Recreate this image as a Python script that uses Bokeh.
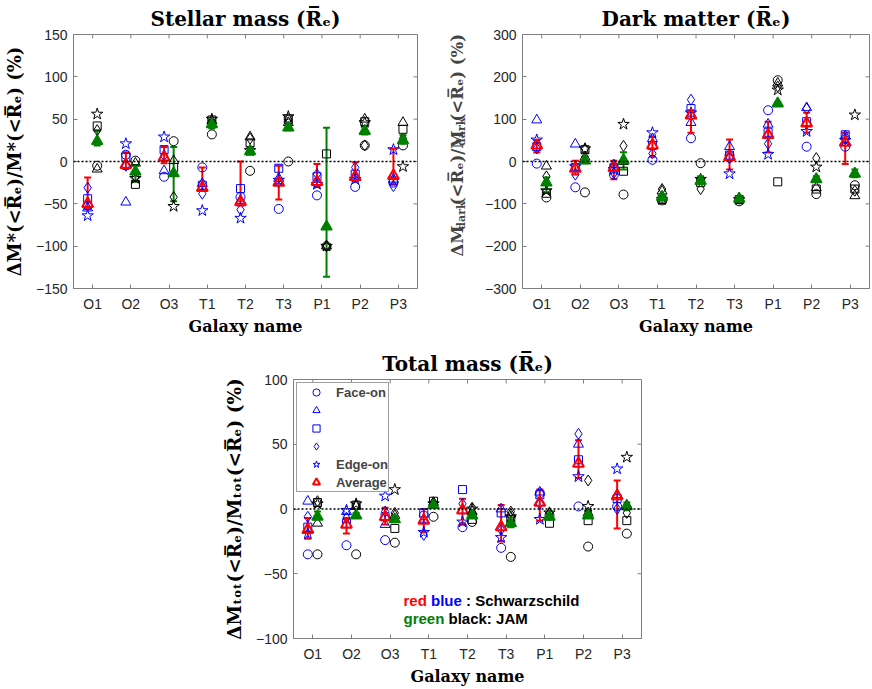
import math
import numpy as np
from bokeh.plotting import figure
from bokeh.models import (ColumnDataSource, Whisker, TeeHead, Span, Label, FixedTicker,
                          Range1d, Legend, LegendItem, Arrow, NormalHead, Spacer)
from bokeh.layouts import column, row
from bokeh.embed import file_html
from bokeh.resources import INLINE

# ---------------- data ----------------
galaxies = ["O1", "O2", "O3", "T1", "T2", "T3", "P1", "P2", "P3"]
projections = ["circle", "triangle", "square", "diamond", "star"]  # face-on -> edge-on

# Stellar mass (%), rows = projections, cols = galaxies
stellar_blue = [
    [-52, 8, -18, -7, -42, -56, -40, -30, -25],
    [-55, -48, -11, -26, -46, -20, -24, -19, -21],
    [-44, 5, 14, -28, -32, -8, -18, -15, -23],
    [-31, -5, 7, -38, -57, -24, -15, -7, -29],
    [-64, 21, 29, -58, -67, -22, -27, -21, 14],
]
stellar_red = [-50, -4, 5, -31, -48, -25, -24, -18, -17]
stellar_red_lo = [-56, -9, -2, -34, -52, -45, -30, -23, -27]
stellar_red_hi = [-19, 11, 17, -7, 0, -5, -3, -1, 15]
stellar_black = [
    [-5, 1, 24, 32, -11, 0, -100, 19, 19],
    [-9, -2, 1, 48, 29, 46, -100, 50, 46],
    [42, -27, -7, 49, 22, 50, 9, 47, 38],
    [37, -18, -42, 46, 27, 50, -100, 19, 27],
    [56, -20, -53, 50, 13, 53, -100, 46, -6],
]
stellar_green = [24, -12, -14, 44, 12, 40, -77, 36, 25]
stellar_green_lo = [19, -24, -47, 39, 8, 37, -136, 32, 21]
stellar_green_hi = [36, -4, 17, 48, 17, 44, 40, 42, 31]

# Dark matter (%)
dark_blue = [
    [-5, -61, -31, 4, 55, 14, 121, 35, 35],
    [98, 41, -8, 54, 92, 35, 88, 127, 60],
    [35, -14, -15, 38, 125, 15, 69, 94, 63],
    [31, -31, -27, 19, 146, 8, 42, 125, 54],
    [51, -12, -19, 68, 115, -29, 17, 71, 50],
]
dark_red = [38, -17, -15, 38, 109, 11, 63, 90, 45]
dark_red_lo = [21, -31, -42, 11, 68, -19, 21, 68, -6]
dark_red_hi = [51, 2, 2, 58, 121, 52, 94, 115, 68]
dark_black = [
    [-85, -73, -78, -92, -4, -94, 192, -77, -56],
    [-11, 10, 0, -70, -46, -88, 185, -62, -81],
    [-75, 28, -23, -90, -50, -90, -48, -65, -65],
    [-35, 30, 37, -65, -65, -88, 177, 8, -69],
    [-69, 30, 88, -90, -42, -90, 169, -13, 110],
]
dark_green = [-50, 2, 3, -84, -46, -88, 137, -42, -29]
dark_green_lo = [-73, -4, -19, -92, -54, -92, 134, -48, -37]
dark_green_hi = [-38, 12, 22, -78, -35, -84, 140, -35, -19]

# Total mass (%)
total_blue = [
    [-35, -28, -24, -5, -14, -30, 12, 2, 2],
    [6, -2, -12, -8, -1, 0, 13, 50, 11],
    [-14, -11, -6, -3, 15, -3, 11, 38, 8],
    [-6, -7, -2, -20, 4, -16, 4, 58, 0],
    [-19, -1, 10, -18, -10, -22, -8, 25, 31],
]
total_red = [-16, -12, -6, -9, -1, -14, 5, 35, 10]
total_red_lo = [-23, -19, -12, -18, -12, -25, -9, 24, -15]
total_red_hi = [-7, -7, 1, 0, 8, 3, 15, 53, 22]
total_black = [
    [-35, -35, -26, -6, -10, -37, -5, -29, -19],
    [-11, 2, -5, 5, -2, -4, -6, -3, 3],
    [5, 3, -15, 6, -8, -8, -11, -9, -9],
    [6, 3, -3, 5, 1, -2, -3, 22, -3],
    [4, 4, 15, 4, 0, -6, -3, 2, 40],
]
total_green = [-6, -5, -8, 3, -5, -11, -6, -5, 2]
total_green_lo = [-8, -7, -10, 1, -7, -14, -8, -6, -1]
total_green_hi = [-2, -3, -6, 5, -3, -9, -4, -2, 5]

# ---------------- style ----------------
GRAY = "#7f7f7f"
TICKC = "#262626"
SERIF = "DejaVu Serif"
SANS = "Liberation Sans"
BLUE, RED, GREEN, BLACK = "#0000ff", "#ff0000", "#008000", "#000000"
OFF_L, OFF_R = -0.13, 0.12
MSIZE = {"circle": 9, "triangle": 10, "square": 8, "diamond": 11, "star": 12}

xs = np.arange(1, len(galaxies) + 1)

# approx advance widths (em) for DejaVu Serif Bold, for chained rotated pieces
CW = {"Δ": 0.84, "M": 1.15, "(": 0.49, ")": 0.49, "<": 0.84, "R": 0.84, "\u0305": 0.0,
      "ₑ": 0.42, "/": 0.37, " ": 0.35, "%": 1.0, "d": 0.76, "a": 0.70, "r": 0.56, "k": 0.76}


def text_w(s, size):
    return sum(CW.get(c, 0.6) for c in s) * size


def make_panel(width, height, mbl, mbr, mbt, mbb, page_l, page_t, ylo, yhi, ystep,
               blue, red, red_lo, red_hi, black, green, green_lo, green_hi,
               title, ylabel, ylabel_size):
    p = figure(width=width, height=height, x_range=Range1d(0.5, 9.5), y_range=Range1d(ylo, yhi),
               output_backend="svg", toolbar_location=None,
               min_border_left=mbl, min_border_right=mbr, min_border_top=mbt, min_border_bottom=mbb)
    p.xgrid.visible = False
    p.ygrid.visible = False
    p.outline_line_color = GRAY
    p.outline_line_width = 1
    p.background_fill_color = "white"
    p.border_fill_color = "white"

    p.title.text = title
    p.title.align = "center"
    p.title.text_font = SERIF
    p.title.text_font_style = "bold"
    p.title.text_font_size = "20px"
    p.title.text_color = "black"
    p.title.standoff = 8

    yt = list(range(ylo, yhi + 1, ystep))
    p.xaxis.ticker = FixedTicker(ticks=[float(v) for v in xs])
    p.xaxis.major_label_overrides = {float(i): g for i, g in zip(xs, galaxies)}
    p.yaxis.ticker = FixedTicker(ticks=yt)
    for ax in (p.xaxis[0], p.yaxis[0]):
        ax.major_tick_in = 4
        ax.major_tick_out = 0
        ax.minor_tick_in = 0
        ax.minor_tick_out = 0
        ax.axis_line_color = GRAY
        ax.major_tick_line_color = GRAY
        ax.major_label_text_font = SANS
        ax.major_label_text_font_size = "14px"
        ax.major_label_text_color = TICKC
        ax.axis_label_text_font = SERIF
        ax.axis_label_text_font_style = "bold"
        ax.axis_label_text_color = "black"
    p.xaxis.major_label_standoff = 7
    p.yaxis.major_label_standoff = 6
    p.xaxis.axis_label = "Galaxy name"
    p.xaxis.axis_label_text_font_size = "16px"
    p.xaxis.axis_label_standoff = 2
    if ylabel:
        p.yaxis.axis_label = ylabel
        p.yaxis.axis_label_text_font_size = ylabel_size
        p.yaxis.axis_label_standoff = 8

    fw = width - mbl - mbr
    fh = height - mbt - mbb

    # inward ticks on the top and right edges of the box
    tlen_y = 4 * (yhi - ylo) / fh
    tlen_x = 4 * 9.0 / fw
    p.segment(x0=xs, y0=[yhi] * len(xs), x1=xs, y1=[yhi - tlen_y] * len(xs),
              line_color=GRAY, line_width=1)
    p.segment(x0=[9.5] * len(yt), y0=yt, x1=[9.5 - tlen_x] * len(yt), y1=yt,
              line_color=GRAY, line_width=1)

    p.add_layout(Span(location=0, dimension="width", line_color="black",
                      line_width=1.5, line_dash="2 2"))

    rends = {}
    for k, m in enumerate(projections):
        rends[m] = p.scatter(xs + OFF_L, blue[k], marker=m, size=MSIZE[m], line_color=BLUE,
                             fill_color=None, line_width=1)
    p.add_layout(Whisker(source=ColumnDataSource(dict(x=xs + OFF_L, lo=red_lo, hi=red_hi)),
                         base="x", lower="lo", upper="hi", line_color=RED, line_width=2,
                         upper_head=TeeHead(size=7, line_color=RED, line_width=2),
                         lower_head=TeeHead(size=7, line_color=RED, line_width=2)))
    rends["avg"] = p.scatter(xs + OFF_L, red, marker="triangle", size=11, line_color=RED,
                             fill_color=None, line_width=2)
    for k, m in enumerate(projections):
        p.scatter(xs + OFF_R, black[k], marker=m, size=MSIZE[m], line_color=BLACK,
                  fill_color=None, line_width=1)
    p.add_layout(Whisker(source=ColumnDataSource(dict(x=xs + OFF_R, lo=green_lo, hi=green_hi)),
                         base="x", lower="lo", upper="hi", line_color=GREEN, line_width=2,
                         upper_head=TeeHead(size=7, line_color=GREEN, line_width=2),
                         lower_head=TeeHead(size=7, line_color=GREEN, line_width=2)))
    p.scatter(xs + OFF_R, green, marker="triangle", size=11, line_color=GREEN,
              fill_color=GREEN, line_width=1.5)

    def dx(px):
        return 0.5 + (px - page_l) / (fw / 9.0)

    def dy(py):
        return yhi - (py - page_t) * (yhi - ylo) / fh

    return p, rends, dx, dy, fw, fh


TOP_H = 338

# ---------------- panel 1: stellar ----------------
p1, r1, dx1, dy1, fw1, fh1 = make_panel(442, TOP_H, 69, 25, 33, 45, 69, 33, -150, 150, 50,
                                        stellar_blue, stellar_red, stellar_red_lo, stellar_red_hi,
                                        stellar_black, stellar_green, stellar_green_lo, stellar_green_hi,
                                        "Stellar mass (R\u0305ₑ)", "ΔM*(<R\u0305ₑ)/M*(<R\u0305ₑ) (%)", "18px")

# ---------------- dark-matter y label (own narrow strip, with subscripts) ----------------
LAB_W = 30
LAB_X0 = 442  # page x where the strip starts
lab2 = figure(width=LAB_W, height=TOP_H, x_range=Range1d(0, LAB_W), y_range=Range1d(0, TOP_H),
              output_backend="svg", toolbar_location=None, title=None,
              x_axis_location=None, y_axis_location=None,
              min_border_left=0, min_border_right=0, min_border_top=0, min_border_bottom=0)
lab2.xgrid.visible = False
lab2.ygrid.visible = False
lab2.outline_line_color = None
lab2.background_fill_color = "white"
lab2.border_fill_color = "white"
# (text, font size px, baseline shift px, gap after px)
pieces = [("ΔM", 16.5, 0, 3), ("dark", 11, 4, 2), ("(<R\u0305ₑ)/M", 16.5, 0, 3), ("dark", 11, 4, 2),
          ("(<R\u0305ₑ) (%)", 16.5, 0, 0)]
total_len = sum(text_w(t, s) + g for t, s, _, g in pieces)
cur = (TOP_H - 161) - total_len / 2
base_x = 457 - LAB_X0
for t, s, sh, g in pieces:
    lab2.add_layout(Label(x=base_x + sh, y=cur, text=t, angle=math.pi / 2,
                          text_align="left", text_baseline="alphabetic",
                          text_font=SERIF, text_font_style="bold", text_font_size=f"{s}px"))
    cur += text_w(t, s) + g

# ---------------- panel 2: dark matter ----------------
p2, r2, dx2, dy2, fw2, fh2 = make_panel(399, TOP_H, 50, 2, 33, 45, 522, 33, -300, 300, 100,
                                        dark_blue, dark_red, dark_red_lo, dark_red_hi,
                                        dark_black, dark_green, dark_green_lo, dark_green_hi,
                                        "Dark matter (R\u0305ₑ)", None, None)

# ---------------- panel 3: total ----------------
P3W, P3H = 446, 350
p3, r3, dx3, dy3, fw3, fh3 = make_panel(P3W, P3H, 78, 20, 41, 49, 293, 379, -100, 100, 50,
                                        total_blue, total_red, total_red_lo, total_red_hi,
                                        total_black, total_green, total_green_lo, total_green_hi,
                                        "Total mass (R\u0305ₑ)", "ΔMₜₒₜ(<R\u0305ₑ)/Mₜₒₜ(<R\u0305ₑ) (%)", "18.5px")

legend = Legend(items=[
    LegendItem(label="Face-on", renderers=[r3["circle"]]),
    LegendItem(label=" ", renderers=[r3["triangle"]]),
    LegendItem(label=" ", renderers=[r3["square"]]),
    LegendItem(label=" ", renderers=[r3["diamond"]]),
    LegendItem(label="Edge-on", renderers=[r3["star"]]),
    LegendItem(label="Average", renderers=[r3["avg"]]),
], location="top_left", margin=3, padding=0, spacing=0, glyph_height=18, glyph_width=38,
    label_height=18, label_standoff=1, label_text_font=SANS, label_text_font_style="bold",
    label_text_font_size="13px", border_line_color="#404040", border_line_width=1,
    background_fill_color="white", background_fill_alpha=1.0)
p3.add_layout(legend)
p3.add_layout(Arrow(x_start=dx3(358), y_start=dy3(405), x_end=dx3(358), y_end=dy3(452),
                    line_width=2, line_color="black",
                    end=NormalHead(size=11, fill_color="black", line_color="black")))

# annotation: coloured words, positioned left to right
SB = {"r": .389, "e": .556, "d": .611, " ": .278, "b": .611, "l": .278, "u": .611,
      "g": .611, "n": .611}
note_lines = [
    [("red", RED, "red "), ("blue", BLUE, "blue "), (": Schwarzschild", BLACK, "")],
    [("green", GREEN, "green "), ("black: JAM", BLACK, "")],
]
for line, base in zip(note_lines, [601, 619]):
    xcur = 403
    for t, col, adv in line:
        p3.add_layout(Label(x=dx3(xcur), y=dy3(base), text=t, text_align="left",
                            text_baseline="alphabetic", text_font=SANS, text_font_style="bold",
                            text_font_size="15px", text_color=col))
        xcur += sum(SB.get(c, 0.6) for c in adv) * 15

layout = column(row(p1, lab2, p2), row(Spacer(width=215, height=P3H), p3))
open("out.html", "w").write(file_html(layout, INLINE))
